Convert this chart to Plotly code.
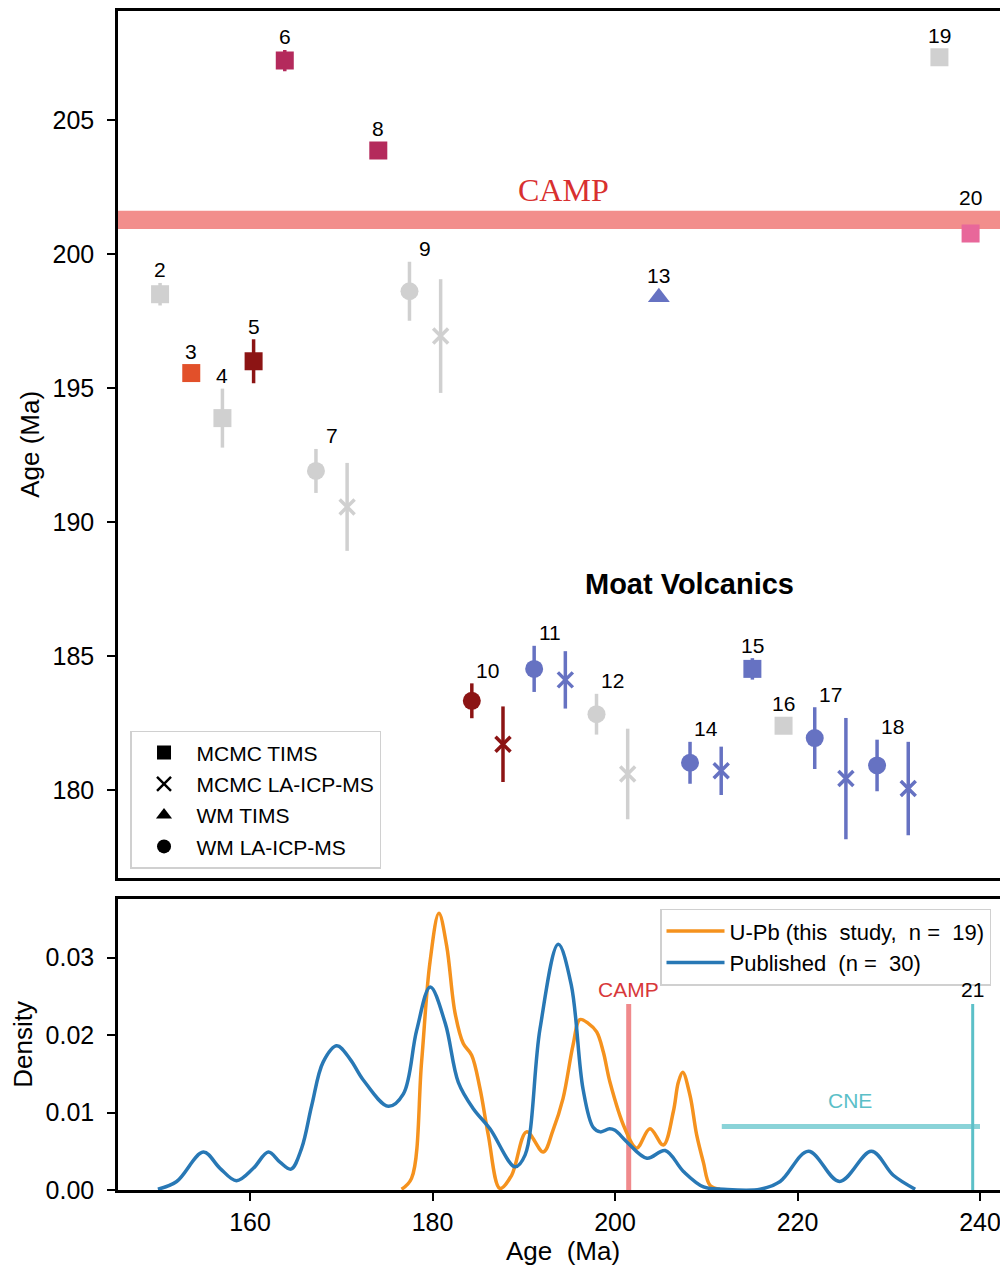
import plotly.graph_objects as go

# ---------------- Top panel data (U-Pb ages) ----------------
sample_ids = [2, 3, 4, 5, 6, 7, 7, 8, 9, 9, 10, 10, 11, 11, 12, 12, 13, 14, 14, 15, 16, 17, 17, 18, 18, 19, 20]
methods = ["MCMC TIMS", "MCMC TIMS", "MCMC TIMS", "MCMC TIMS", "MCMC TIMS",
           "WM LA-ICP-MS", "MCMC LA-ICP-MS", "MCMC TIMS",
           "WM LA-ICP-MS", "MCMC LA-ICP-MS", "WM LA-ICP-MS", "MCMC LA-ICP-MS",
           "WM LA-ICP-MS", "MCMC LA-ICP-MS", "WM LA-ICP-MS", "MCMC LA-ICP-MS",
           "WM TIMS", "WM LA-ICP-MS", "MCMC LA-ICP-MS", "MCMC TIMS", "MCMC TIMS",
           "WM LA-ICP-MS", "MCMC LA-ICP-MS", "WM LA-ICP-MS", "MCMC LA-ICP-MS",
           "MCMC TIMS", "MCMC TIMS"]
ages = [198.50, 195.56, 193.88, 196.00, 207.21, 191.91, 190.57, 203.86, 198.61, 196.94,
        183.34, 181.72, 184.53, 184.12, 182.84, 180.61, 198.39, 181.03, 180.73, 184.53,
        182.41, 181.95, 180.44, 180.93, 180.07, 207.34, 200.76]
errors = [0.42, 0.0, 1.10, 0.82, 0.40, 0.82, 1.64, 0.0, 1.10, 2.12,
          0.65, 1.41, 0.86, 1.07, 0.76, 1.69, 0.0, 0.78, 0.90, 0.40,
          0.0, 1.15, 2.26, 0.96, 1.74, 0.0, 0.0]
sample_color = {2: "#d0d0d0", 3: "#e2502a", 4: "#d0d0d0", 5: "#8c1414", 6: "#b42a5c",
                7: "#d0d0d0", 8: "#b42a5c", 9: "#d0d0d0", 10: "#8c1414", 11: "#6672c2",
                12: "#d0d0d0", 13: "#6672c2", 14: "#6672c2", 15: "#6672c2", 16: "#d0d0d0",
                17: "#6672c2", 18: "#6672c2", 19: "#d0d0d0", 20: "#e8679a"}
camp_band = (200.93, 201.61)

# ---------------- Bottom panel data (density curves) ----------------
upb_age = [176.6, 177.7, 178.8, 179.72, 180.7, 181.55, 182.46, 183.37, 184.29, 185.2, 186.11,
           187.39, 188.67, 190.31, 192.14, 193.2, 194.3, 195.4, 196.16, 197.07, 197.99, 198.72,
           199.45, 201.09, 202.37, 203.83, 205.29, 206.39, 206.94, 207.42, 208.22, 208.95,
           209.68, 210.41, 211.5]
upb_density = [0.0001, 0.0015, 0.0165, 0.0294, 0.0357, 0.0315, 0.0229, 0.0189, 0.0174, 0.0131, 0.0071,
               0.0002, 0.0019, 0.0075, 0.0049, 0.0077, 0.0118, 0.0187, 0.0220, 0.0215, 0.0204, 0.0178,
               0.0139, 0.0079, 0.0054, 0.0079, 0.0058, 0.0101, 0.0139, 0.0152, 0.0122, 0.0071,
               0.0036, 0.0006, 0.0001]
pub_age = [149.9, 151.96, 154.88, 156.71, 158.51, 160.36, 162.01, 163.28, 164.49, 165.66, 166.76,
           168.01, 169.51, 170.96, 172.41, 175.16, 176.81, 178.26, 179.75, 181.4, 182.83, 184.47,
           186.3, 189.04, 190.14, 191.78, 193.78, 195.2, 196.5, 197.6, 198.4, 199.4, 200.0, 201.3,
           203.5, 205.5, 207.5, 209.7, 211.9, 215.9, 218.1, 221.2, 224.6, 228.1, 230.5, 232.9]
pub_density = [0.0001, 0.0011, 0.0049, 0.0028, 0.0012, 0.0028, 0.0049, 0.0036, 0.0027, 0.0054, 0.0109,
               0.0165, 0.0186, 0.0169, 0.0142, 0.0108, 0.0124, 0.0206, 0.0262, 0.0215, 0.0139, 0.0105,
               0.0079, 0.0030, 0.0045, 0.0208, 0.0317, 0.0265, 0.0130, 0.0081, 0.0075, 0.0079, 0.0077,
               0.0062, 0.0041, 0.0051, 0.0024, 0.0004, 0.0001, 0.0001, 0.0011, 0.0050, 0.0011, 0.0050,
               0.0019, 0.0001]
camp_age = 201.5
cne_range = (211.7, 240.0)
cne_density = 0.0082
sample21_age = 239.2
marker_line_top = 0.024

FONT = "Liberation Sans, Arial, sans-serif"

symbol_map = {"MCMC TIMS": "square", "MCMC LA-ICP-MS": "x-thin",
              "WM TIMS": "triangle-up", "WM LA-ICP-MS": "circle"}
size_map = {"MCMC TIMS": 18, "MCMC LA-ICP-MS": 15, "WM TIMS": 19, "WM LA-ICP-MS": 18}

positions = list(range(len(ages)))

fig = go.Figure()

groups = {}
for i, (s, m) in enumerate(zip(sample_ids, methods)):
    groups.setdefault((sample_color[s], m), []).append(i)

for (col, m), idx in groups.items():
    marker = dict(symbol=symbol_map[m], size=size_map[m], color=col)
    if m == "MCMC LA-ICP-MS":
        marker["line"] = dict(color=col, width=3.5)
    else:
        marker["line"] = dict(width=0)
    fig.add_trace(go.Scatter(
        x=[positions[i] for i in idx], y=[ages[i] for i in idx],
        mode="markers", marker=marker,
        error_y=dict(type="data", array=[errors[i] for i in idx], color=col,
                     thickness=3.5, width=0, visible=True),
        xaxis="x", yaxis="y", showlegend=False, hoverinfo="skip"))

for k, m in enumerate(["MCMC TIMS", "MCMC LA-ICP-MS", "WM TIMS", "WM LA-ICP-MS"]):
    mk = dict(symbol=symbol_map[m], size=14, color="black")
    if m == "MCMC LA-ICP-MS":
        mk["line"] = dict(color="black", width=2.5)
    fig.add_trace(go.Scatter(x=[None], y=[None], mode="markers", marker=mk, name=m,
                             xaxis="x", yaxis="y", legend="legend", legendgroup=f"g{k}",
                             showlegend=True))

label_nudge = {20: 14}
annotations = []
seen = []
for s in sample_ids:
    if s in seen:
        continue
    seen.append(s)
    idx = [i for i, v in enumerate(sample_ids) if v == s]
    xm = sum(positions[i] for i in idx) / len(idx)
    top = max(ages[i] + max(errors[i], 0.33) for i in idx)
    annotations.append(dict(x=xm, y=top, xref="x", yref="y", text=str(s), showarrow=False,
                            yanchor="middle", yshift=13 + label_nudge.get(s, 0),
                            font=dict(size=21, color="black", family=FONT)))

annotations.append(dict(x=12.95, y=202.37, xref="x", yref="y", text="CAMP", showarrow=False,
                        font=dict(size=32, color="#d8302f", family="Liberation Serif, Times New Roman, serif")))
annotations.append(dict(x=16.99, y=187.7, xref="x", yref="y", text="<b>Moat Volcanics</b>",
                        showarrow=False, font=dict(size=29, color="black", family=FONT)))

fig.add_trace(go.Scatter(x=upb_age, y=upb_density, mode="lines",
                         line=dict(color="#f5921e", width=3.5, shape="spline", smoothing=1.0),
                         name="U-Pb (this\u00a0 study,\u00a0 n =\u00a0 19)",
                         xaxis="x2", yaxis="y2", legend="legend2", hoverinfo="skip"))
fig.add_trace(go.Scatter(x=pub_age, y=pub_density, mode="lines",
                         line=dict(color="#2878b5", width=3.5, shape="spline", smoothing=1.0),
                         name="Published\u00a0 (n =\u00a0 30)",
                         xaxis="x2", yaxis="y2", legend="legend2", hoverinfo="skip"))

annotations.append(dict(x=camp_age, y=marker_line_top, xref="x2", yref="y2", text="CAMP",
                        showarrow=False, yanchor="bottom", yshift=1,
                        font=dict(size=21, color="#d8383a", family=FONT)))
annotations.append(dict(x=(cne_range[0] + cne_range[1]) / 2 - 0.05, y=cne_density, xref="x2", yref="y2",
                        text="CNE", showarrow=False, yanchor="bottom", yshift=12,
                        font=dict(size=21, color="#5bbfc8", family=FONT)))
annotations.append(dict(x=sample21_age, y=marker_line_top, xref="x2", yref="y2", text="21",
                        showarrow=False, yanchor="bottom", yshift=1,
                        font=dict(size=21, color="black", family=FONT)))

shapes = [
    dict(type="rect", xref="x domain", yref="y", x0=0, x1=1, y0=camp_band[0], y1=camp_band[1],
         fillcolor="#f28e8c", line=dict(width=0), layer="below"),
    dict(type="line", xref="x2", yref="y2", x0=camp_age, x1=camp_age, y0=0, y1=marker_line_top,
         line=dict(color="#f08a8c", width=5), layer="below"),
    dict(type="line", xref="x2", yref="y2", x0=cne_range[0], x1=cne_range[1], y0=cne_density,
         y1=cne_density, line=dict(color="#8ad3d8", width=5), layer="below"),
    dict(type="line", xref="x2", yref="y2", x0=sample21_age, x1=sample21_age, y0=0, y1=marker_line_top,
         line=dict(color="#5cc0c8", width=3), layer="below"),
]

axis_common = dict(showline=True, linecolor="black", linewidth=2.5, showgrid=False, zeroline=False,
                   ticks="outside", ticklen=8, tickwidth=2, tickcolor="black",
                   tickfont=dict(size=25, color="black", family=FONT))

fig.update_layout(
    width=1000, height=1261,
    margin=dict(l=110, r=0, t=0, b=79),
    plot_bgcolor="white", paper_bgcolor="white",
    font=dict(family=FONT, color="black"),
    xaxis=dict(domain=[0, 1], anchor="y", range=[-1.35, 27.2], showticklabels=False, ticks="",
               showline=True, mirror=True, linecolor="black", linewidth=2.5, showgrid=False,
               zeroline=False),
    yaxis=dict(domain=[0.2648, 1], anchor="x", range=[176.74, 209.06],
               tickvals=[180, 185, 190, 195, 200, 205], ticklabelstandoff=8,
               title=dict(text="Age (Ma)", font=dict(size=26, family=FONT), standoff=6),
               **axis_common),
    xaxis2=dict(domain=[0, 1], anchor="y2", range=[145.53, 243.07], tickvals=[160, 180, 200, 220, 240],
                mirror=True,
                title=dict(text="Age\u00a0 (Ma)", font=dict(size=26, family=FONT), standoff=6),
                **axis_common),
    yaxis2=dict(domain=[0, 0.247], anchor="x2", range=[0, 0.03758], tickvals=[0, 0.01, 0.02, 0.03],
                tickformat=".2f", ticklabelstandoff=8,
                title=dict(text="Density", font=dict(size=26, family=FONT), standoff=6),
                **axis_common),
    legend=dict(x=0.0135, y=0.2724, xanchor="left", yanchor="bottom", bgcolor="white",
                bordercolor="#d0d0d0", borderwidth=1.5, font=dict(size=21, family=FONT),
                tracegroupgap=1, traceorder="grouped", itemwidth=55),
    legend2=dict(x=0.609, y=0.2386, xanchor="left", yanchor="top", bgcolor="white",
                 bordercolor="#d0d0d0", borderwidth=1.5, font=dict(size=22, family=FONT),
                 itemwidth=58),
    annotations=annotations,
    shapes=shapes,
)

fig.write_html("out.html")
